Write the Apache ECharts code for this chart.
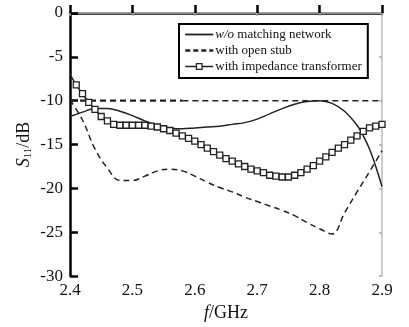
<!DOCTYPE html>
<html><head><meta charset="utf-8">
<script src="https://cdn.jsdelivr.net/npm/echarts@6/dist/echarts.min.js"></script>
<style>html,body{margin:0;padding:0;background:#fff}#c{width:409px;height:327px}</style>
</head><body><div id="c"></div>
<script>
var seriesNames = ['w/o matching network', 'with open stub', 'with impedance transformer'];
var xTicks = [2.4, 2.5, 2.6, 2.7, 2.8, 2.9];
var yTicks = [0, -5, -10, -15, -20, -25, -30];

var freqWo = [2.40,2.42,2.44,2.46,2.48,2.50,2.52,2.54,2.56,2.58,2.60,2.62,2.64,2.66,2.68,2.70,2.72,2.74,2.76,2.78,2.80,2.82,2.84,2.86,2.87,2.88,2.89,2.90];
var s11Wo = [-11.8,-11.3,-10.9,-10.9,-11.2,-11.7,-12.3,-12.8,-13.1,-13.2,-13.1,-13.0,-12.9,-12.7,-12.5,-12.1,-11.5,-10.9,-10.4,-10.1,-10.0,-10.3,-11.2,-12.8,-14.0,-15.5,-17.5,-19.8];

var freqStub = [2.40,2.42,2.44,2.46,2.48,2.50,2.52,2.54,2.56,2.58,2.60,2.62,2.64,2.66,2.68,2.70,2.72,2.74,2.76,2.78,2.80,2.82,2.84,2.86,2.88,2.90];
var s11Stub = [-9.9,-12.2,-15.5,-17.7,-19.1,-19.1,-18.6,-18.0,-17.8,-18.0,-18.6,-19.3,-19.9,-20.4,-21.0,-21.5,-22.0,-22.5,-23.1,-23.9,-24.6,-25.2,-22.8,-20.4,-18.1,-15.7];

var freqImp = [2.40,2.41,2.42,2.43,2.44,2.45,2.46,2.47,2.48,2.49,2.50,2.51,2.52,2.53,2.54,2.55,2.56,2.57,2.58,2.59,2.60,2.61,2.62,2.63,2.64,2.65,2.66,2.67,2.68,2.69,2.70,2.71,2.72,2.73,2.74,2.75,2.76,2.77,2.78,2.79,2.80,2.81,2.82,2.83,2.84,2.85,2.86,2.87,2.88,2.89,2.90];
var s11Imp = [-7.0,-8.2,-9.2,-10.2,-11.0,-11.8,-12.3,-12.7,-12.8,-12.8,-12.8,-12.8,-12.8,-12.9,-13.0,-13.2,-13.4,-13.7,-14.0,-14.3,-14.6,-15.0,-15.4,-15.8,-16.2,-16.6,-16.9,-17.2,-17.5,-17.8,-18.0,-18.2,-18.5,-18.6,-18.7,-18.7,-18.5,-18.2,-17.8,-17.4,-16.9,-16.4,-15.9,-15.4,-15.0,-14.5,-14.0,-13.5,-13.1,-12.9,-12.7];

var refFreqThick = [2.40, 2.58];
var refFreqThin = [2.58, 2.90];
var refLevel = -10;

function pairs(xs, ys) { return xs.map(function (x, i) { return [x, ys[i]]; }); }

var impData = pairs(freqImp, s11Imp).map(function (p, i) {
  return i === 0 ? { value: p, symbol: 'none' } : { value: p };
});

var ink = '#222';
var serif = '"Liberation Serif", "DejaVu Serif", serif';
var hiddenSym = { color: 'rgba(0,0,0,0)', borderWidth: 0, opacity: 0 };

var chart = echarts.init(document.getElementById('c'), null, { renderer: 'canvas' });
chart.setOption({
  backgroundColor: '#fff',
  animation: false,
  grid: { left: 70, right: 27, top: 13, bottom: 49 },
  legend: {
    orient: 'vertical',
    left: 179, top: 24,
    padding: [4, 6, 5, 5],
    itemGap: 3,
    itemWidth: 28, itemHeight: 7,
    borderColor: '#000', borderWidth: 2,
    backgroundColor: '#fff',
    textStyle: { fontFamily: serif, fontSize: 13, color: '#111', padding: [0, 0, 0, -3],
      rich: { i: { fontFamily: serif, fontStyle: 'italic', fontSize: 13, color: '#111' } } },
    formatter: function (n) { return n === seriesNames[0] ? '{i|w/o} matching network' : n; },
    data: [
      { name: seriesNames[0], itemStyle: hiddenSym, lineStyle: { color: ink, width: 1.8, type: 'solid' } },
      { name: seriesNames[1], itemStyle: hiddenSym, lineStyle: { color: ink, width: 2.5, type: [5, 3] } },
      { name: seriesNames[2], itemStyle: { color: '#fff', borderColor: ink, borderWidth: 1.3 }, lineStyle: { color: ink, width: 1.5 } }
    ]
  },
  xAxis: [{
    type: 'value', min: 2.4, max: 2.9, interval: 0.1,
    position: 'bottom',
    name: '{i|f}/GHz', nameLocation: 'middle', nameGap: 24,
    nameTextStyle: { fontFamily: serif, fontSize: 18, color: '#111',
      rich: { i: { fontFamily: serif, fontStyle: 'italic', fontSize: 18, color: '#111' } } },
    axisLine: { lineStyle: { color: '#000', width: 2.5 } },
    axisTick: { inside: true, length: 8, lineStyle: { color: '#000', width: 2.5 } },
    axisLabel: { fontFamily: serif, fontSize: 17, color: '#111', margin: 6,
      formatter: function (v) { return v.toFixed(1); } },
    splitLine: { show: false }
  }, {
    type: 'value', min: 2.4, max: 2.9, interval: 0.1, position: 'top',
    axisLine: { show: true, lineStyle: { color: '#bbb', width: 1.5 } },
    axisTick: { inside: true, length: 3, lineStyle: { color: '#aaa', width: 1.5 } },
    axisLabel: { show: false }, splitLine: { show: false }
  }],
  yAxis: [{
    type: 'value', min: -30, max: 0, interval: 5,
    position: 'left',
    name: '{i|S}{sub|11}/dB', nameLocation: 'middle', nameGap: 36, nameRotate: 90,
    nameMoveOverlap: false,
    nameTextStyle: { fontFamily: serif, fontSize: 18, color: '#111',
      rich: {
        i: { fontFamily: serif, fontStyle: 'italic', fontSize: 18, color: '#111' },
        sub: { fontFamily: serif, fontSize: 11, color: '#111', verticalAlign: 'bottom', padding: [8, 0, 0, 0] }
      } },
    axisLine: { lineStyle: { color: '#000', width: 2.5 } },
    axisTick: { inside: true, length: 8, lineStyle: { color: '#000', width: 2.5 } },
    axisLabel: { fontFamily: serif, fontSize: 17, color: '#111', margin: 7 },
    splitLine: { show: false }
  }, {
    type: 'value', min: -30, max: 0, interval: 5, position: 'right',
    axisLine: { show: true, lineStyle: { color: '#bbb', width: 1.5 } },
    axisTick: { inside: true, length: 3, lineStyle: { color: '#aaa', width: 1.5 } },
    axisLabel: { show: false }, splitLine: { show: false }
  }],
  series: [
    { type: 'line', name: '__ref1', data: pairs(refFreqThick, [refLevel, refLevel]), symbol: 'none', silent: true,
      lineStyle: { color: ink, width: 2.2, type: [6, 4] } },
    { type: 'line', name: '__ref2', data: pairs(refFreqThin, [refLevel, refLevel]), symbol: 'none', silent: true,
      lineStyle: { color: ink, width: 1.5, type: [6, 4] } },
    { type: 'line', name: seriesNames[0], data: pairs(freqWo, s11Wo), smooth: 0.4, symbol: 'none',
      lineStyle: { color: ink, width: 1.5 }, itemStyle: { color: ink } },
    { type: 'line', name: seriesNames[1], data: pairs(freqStub, s11Stub), smooth: 0.4, symbol: 'none',
      lineStyle: { color: ink, width: 1.5, type: [6, 4] }, itemStyle: { color: ink } },
    { type: 'line', name: seriesNames[2], data: impData, smooth: 0.3, symbol: 'rect', symbolSize: 6,
      lineStyle: { color: ink, width: 1.5 },
      itemStyle: { color: '#fff', borderColor: ink, borderWidth: 1.3 } }
  ]
});
</script></body></html>
